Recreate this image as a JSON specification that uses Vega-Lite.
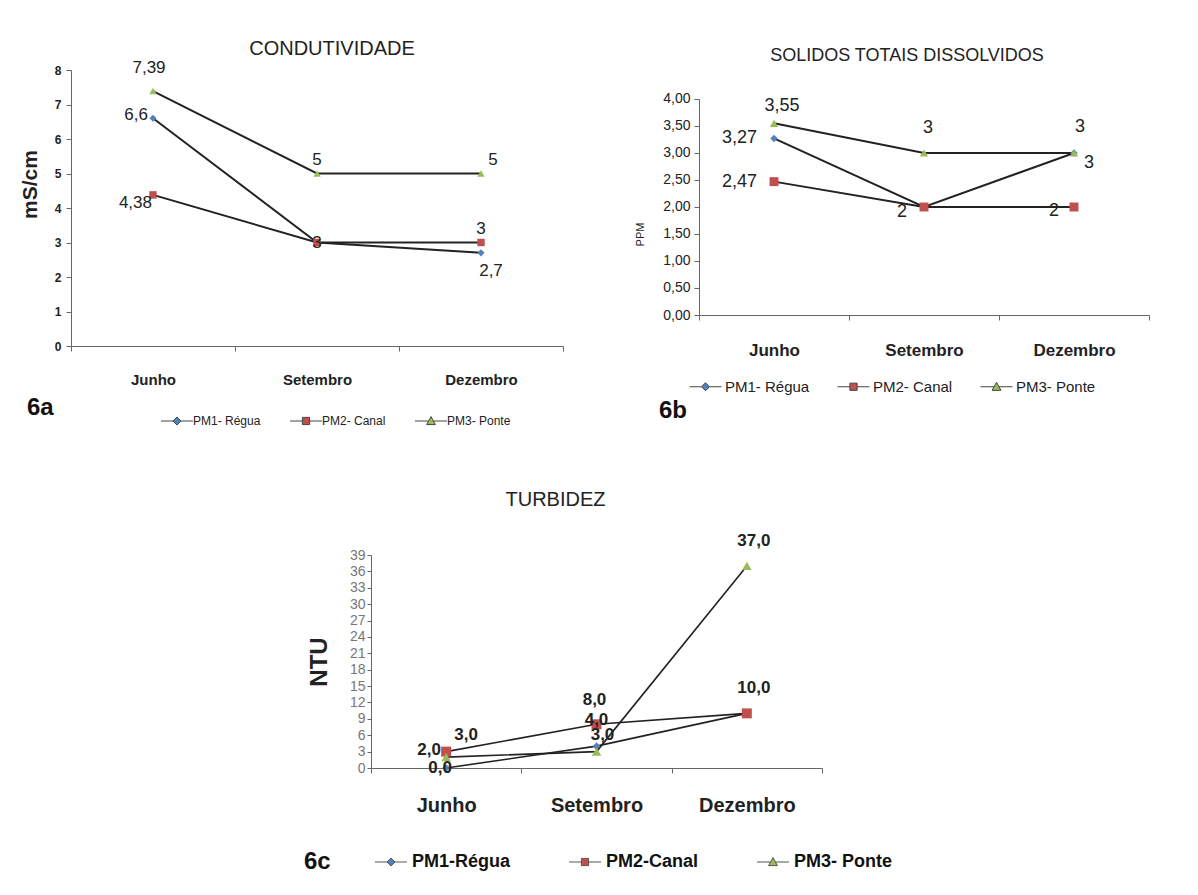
{
  "$schema": "https://vega.github.io/schema/vega-lite/v6.json",
  "background": "white",
  "padding": {"left": 19, "top": 39, "right": 5, "bottom": 5},
  "autosize": {"type": "pad"},
  "config": {
    "view": {"stroke": null},
    "locale": {"number": {"decimal": ",", "thousands": ".", "grouping": [3], "currency": ["", ""]}},
    "axis": {"grid": false, "domainColor": "#666", "tickColor": "#666", "labelColor": "#222", "titleColor": "#222", "domainWidth": 1},
    "title": {"color": "#222", "fontWeight": "normal", "anchor": "middle"}
  },
  "datasets": {
    "cond": [
      {"mes": "Junho", "ponto": "PM1- Régua", "valor": 6.6},
      {"mes": "Setembro", "ponto": "PM1- Régua", "valor": 3},
      {"mes": "Dezembro", "ponto": "PM1- Régua", "valor": 2.7},
      {"mes": "Junho", "ponto": "PM2- Canal", "valor": 4.38},
      {"mes": "Setembro", "ponto": "PM2- Canal", "valor": 3},
      {"mes": "Dezembro", "ponto": "PM2- Canal", "valor": 3},
      {"mes": "Junho", "ponto": "PM3- Ponte", "valor": 7.39},
      {"mes": "Setembro", "ponto": "PM3- Ponte", "valor": 5},
      {"mes": "Dezembro", "ponto": "PM3- Ponte", "valor": 5}
    ],
    "tds": [
      {"mes": "Junho", "ponto": "PM1- Régua", "valor": 3.27},
      {"mes": "Setembro", "ponto": "PM1- Régua", "valor": 2},
      {"mes": "Dezembro", "ponto": "PM1- Régua", "valor": 3},
      {"mes": "Junho", "ponto": "PM2- Canal", "valor": 2.47},
      {"mes": "Setembro", "ponto": "PM2- Canal", "valor": 2},
      {"mes": "Dezembro", "ponto": "PM2- Canal", "valor": 2},
      {"mes": "Junho", "ponto": "PM3- Ponte", "valor": 3.55},
      {"mes": "Setembro", "ponto": "PM3- Ponte", "valor": 3},
      {"mes": "Dezembro", "ponto": "PM3- Ponte", "valor": 3}
    ],
    "turb": [
      {"mes": "Junho", "ponto": "PM1-Régua", "valor": 0},
      {"mes": "Setembro", "ponto": "PM1-Régua", "valor": 4},
      {"mes": "Dezembro", "ponto": "PM1-Régua", "valor": 10},
      {"mes": "Junho", "ponto": "PM2-Canal", "valor": 3},
      {"mes": "Setembro", "ponto": "PM2-Canal", "valor": 8},
      {"mes": "Dezembro", "ponto": "PM2-Canal", "valor": 10},
      {"mes": "Junho", "ponto": "PM3- Ponte", "valor": 2},
      {"mes": "Setembro", "ponto": "PM3- Ponte", "valor": 3},
      {"mes": "Dezembro", "ponto": "PM3- Ponte", "valor": 37}
    ]
  },
  "vconcat": [
    {
      "hconcat": [
        {
          "data": {"name": "cond"},
          "width": 492,
          "height": 276,
          "title": {"text": "CONDUTIVIDADE", "font": "Liberation Sans, sans-serif", "fontSize": 20, "fontWeight": "normal", "frame": "group", "anchor": "middle", "dx": 15, "offset": 0},
          "encoding": {
            "x": {"field": "mes", "type": "nominal", "sort": ["Junho", "Setembro", "Dezembro"], "scale": {"type": "band", "paddingInner": 0, "paddingOuter": 0},
              "axis": {"title": null, "labelAngle": 0, "labelFont": "Liberation Sans, sans-serif", "labelFontSize": 15, "labelFontWeight": "bold", "labelPadding": 21, "tickBand": "extent", "tickSize": 5}},
            "y": {"field": "valor", "type": "quantitative", "scale": {"domain": [0, 8]},
              "axis": {"title": "mS/cm", "titleFont": "Liberation Sans, sans-serif", "titleFontSize": 21, "titleFontWeight": "bold", "titlePadding": 14, "titleY": 114, "values": [0, 1, 2, 3, 4, 5, 6, 7, 8], "labelFont": "Liberation Sans, sans-serif", "labelFontSize": 12, "labelFontWeight": "bold", "tickSize": 5, "labelPadding": 5}}
          },
          "layer": [
            {"mark": {"type": "line", "color": "#222", "strokeWidth": 2}, "encoding": {"detail": {"field": "ponto", "type": "nominal"}}},
            {"transform": [{"filter": "datum.ponto == 'PM1- Régua'"}], "mark": {"type": "point", "filled": true, "opacity": 1, "size": 50, "shape": "diamond", "color": "#4F81BD"}},
            {"transform": [{"filter": "datum.ponto == 'PM2- Canal'"}], "mark": {"type": "point", "filled": true, "opacity": 1, "size": 55, "shape": "square", "color": "#C0504D"}},
            {"transform": [{"filter": "datum.ponto == 'PM3- Ponte'"}], "mark": {"type": "point", "filled": true, "opacity": 1, "size": 55, "shape": "triangle-up", "color": "#9BBB59"}},
            {"transform": [{"filter": "false"}], "mark": {"type": "point", "filled": true, "opacity": 1, "stroke": "#444", "strokeWidth": 1},
              "encoding": {
                "color": {"field": "ponto", "type": "nominal", "scale": {"domain": ["PM1- Régua", "PM2- Canal", "PM3- Ponte"], "range": ["#4F81BD", "#C0504D", "#9BBB59"]},
                  "legend": {"title": "6a", "orient": "none", "legendX": -44, "legendY": 345, "direction": "horizontal", "titleOrient": "left", "titleAnchor": "start", "titleBaseline": "alphabetic", "titleFont": "Liberation Sans, sans-serif", "titleFontSize": 24, "titleFontWeight": "bold", "titleColor": "#111", "titlePadding": 106,
                    "labelFont": "Liberation Sans, sans-serif", "labelFontSize": 12, "labelColor": "#222", "labelOffset": 10, "symbolOffset": 11, "symbolSize": 64, "symbolStrokeWidth": 1, "columnPadding": 27}},
                "shape": {"field": "ponto", "type": "nominal", "scale": {"domain": ["PM1- Régua", "PM2- Canal", "PM3- Ponte"], "range": ["M-4,0H-1M1,0H4M0,-1L1,0L0,1L-1,0Z", "M-4,0H-0.9M0.9,0H4M-0.9,-0.9H0.9V0.9H-0.9Z", "M-4,0H-0.6M0.6,0H4M0,-1.1L1.1,0.9L-1.1,0.9Z"]},
                  "legend": {"title": "6a", "orient": "none", "legendX": -44, "legendY": 345, "direction": "horizontal", "titleOrient": "left", "titleAnchor": "start", "titleBaseline": "alphabetic", "titleFont": "Liberation Sans, sans-serif", "titleFontSize": 24, "titleFontWeight": "bold", "titleColor": "#111", "titlePadding": 106,
                    "labelFont": "Liberation Sans, sans-serif", "labelFontSize": 12, "labelColor": "#222", "labelOffset": 10, "symbolOffset": 11, "symbolSize": 64, "symbolStrokeWidth": 1, "columnPadding": 27}}
              }},
            {"transform": [{"filter": "datum.ponto == 'PM3- Ponte' && datum.mes == 'Junho'"}], "mark": {"type": "text", "font": "Liberation Sans, sans-serif", "fontSize": 17, "color": "#222", "baseline": "middle", "align": "center", "dx": -4, "dy": -23}, "encoding": {"text": {"field": "valor", "type": "quantitative", "format": "~g"}}},
            {"transform": [{"filter": "(datum.ponto == 'PM3- Ponte' && datum.mes == 'Setembro') || (datum.ponto == 'PM2- Canal' && datum.mes == 'Dezembro')"}], "mark": {"type": "text", "font": "Liberation Sans, sans-serif", "fontSize": 17, "color": "#222", "baseline": "middle", "align": "center", "dy": -14}, "encoding": {"text": {"field": "valor", "type": "quantitative", "format": "~g"}}},
            {"transform": [{"filter": "datum.ponto == 'PM3- Ponte' && datum.mes == 'Dezembro'"}], "mark": {"type": "text", "font": "Liberation Sans, sans-serif", "fontSize": 17, "color": "#222", "baseline": "middle", "align": "center", "dx": 12, "dy": -14}, "encoding": {"text": {"field": "valor", "type": "quantitative", "format": "~g"}}},
            {"transform": [{"filter": "datum.ponto == 'PM1- Régua' && datum.mes == 'Junho'"}], "mark": {"type": "text", "font": "Liberation Sans, sans-serif", "fontSize": 17, "color": "#222", "baseline": "middle", "align": "right", "dx": -5, "dy": -3}, "encoding": {"text": {"field": "valor", "type": "quantitative", "format": "~g"}}},
            {"transform": [{"filter": "datum.ponto == 'PM2- Canal' && datum.mes == 'Junho'"}], "mark": {"type": "text", "font": "Liberation Sans, sans-serif", "fontSize": 17, "color": "#222", "baseline": "middle", "align": "right", "dx": -1, "dy": 8}, "encoding": {"text": {"field": "valor", "type": "quantitative", "format": "~g"}}},
            {"transform": [{"filter": "datum.ponto == 'PM2- Canal' && datum.mes == 'Setembro'"}], "mark": {"type": "text", "font": "Liberation Sans, sans-serif", "fontSize": 17, "color": "#222", "baseline": "middle", "align": "center"}, "encoding": {"text": {"field": "valor", "type": "quantitative", "format": "~g"}}},
            {"transform": [{"filter": "datum.ponto == 'PM1- Régua' && datum.mes == 'Dezembro'"}], "mark": {"type": "text", "font": "Liberation Sans, sans-serif", "fontSize": 17, "color": "#222", "baseline": "middle", "align": "center", "dx": 10, "dy": 18}, "encoding": {"text": {"field": "valor", "type": "quantitative", "format": "~g"}}}
          ]
        },
        {
          "data": {"name": "tds"},
          "width": 450,
          "height": 245,
          "title": {"text": "SOLIDOS TOTAIS DISSOLVIDOS", "font": "Liberation Sans, sans-serif", "fontSize": 18, "fontWeight": "normal", "frame": "group", "anchor": "middle", "dx": -17, "offset": 5},
          "encoding": {
            "x": {"field": "mes", "type": "nominal", "sort": ["Junho", "Setembro", "Dezembro"], "scale": {"type": "band", "paddingInner": 0, "paddingOuter": 0},
              "axis": {"title": null, "labelAngle": 0, "labelFont": "Liberation Sans, sans-serif", "labelFontSize": 17, "labelFontWeight": "bold", "labelPadding": 22, "tickBand": "extent", "tickSize": 5}},
            "y": {"field": "valor", "type": "quantitative", "scale": {"domain": [0, 4.537], "nice": false},
              "axis": {"title": "PPM", "titleFont": "Liberation Sans, sans-serif", "titleFontSize": 11, "titleFontWeight": "normal", "titlePadding": 17, "titleY": 164, "domain": true, "domainDash": [216, 400], "values": [0, 0.5, 1, 1.5, 2, 2.5, 3, 3.5, 4], "format": ".2f", "labelFont": "Liberation Sans, sans-serif", "labelFontSize": 14, "tickSize": 5, "labelPadding": 4}}
          },
          "layer": [
            {"mark": {"type": "line", "color": "#222", "strokeWidth": 2}, "encoding": {"detail": {"field": "ponto", "type": "nominal"}}},
            {"transform": [{"filter": "datum.ponto == 'PM1- Régua'"}], "mark": {"type": "point", "filled": true, "opacity": 1, "size": 55, "shape": "diamond", "color": "#4F81BD"}},
            {"transform": [{"filter": "datum.ponto == 'PM2- Canal'"}], "mark": {"type": "point", "filled": true, "opacity": 1, "size": 80, "shape": "square", "color": "#C0504D"}},
            {"transform": [{"filter": "datum.ponto == 'PM3- Ponte'"}], "mark": {"type": "point", "filled": true, "opacity": 1, "size": 70, "shape": "triangle-up", "color": "#9BBB59"}},
            {"transform": [{"filter": "false"}], "mark": {"type": "point", "filled": true, "opacity": 1, "stroke": "#444", "strokeWidth": 1},
              "encoding": {
                "color": {"field": "ponto", "type": "nominal", "scale": {"domain": ["PM1- Régua", "PM2- Canal", "PM3- Ponte"], "range": ["#4F81BD", "#C0504D", "#9BBB59"]},
                  "legend": {"title": "6b", "orient": "none", "legendX": -40, "legendY": 309, "direction": "horizontal", "titleOrient": "bottom", "titleAnchor": "start", "titleAlign": "right", "titleFont": "Liberation Sans, sans-serif", "titleFontSize": 24, "titleFontWeight": "bold", "titleColor": "#111", "titlePadding": 4,
                    "labelFont": "Liberation Sans, sans-serif", "labelFontSize": 15, "labelColor": "#222", "labelOffset": 12, "symbolOffset": 11, "symbolSize": 64, "symbolStrokeWidth": 1, "columnPadding": 25}},
                "shape": {"field": "ponto", "type": "nominal", "scale": {"domain": ["PM1- Régua", "PM2- Canal", "PM3- Ponte"], "range": ["M-4,0H-1M1,0H4M0,-1L1,0L0,1L-1,0Z", "M-4,0H-0.9M0.9,0H4M-0.9,-0.9H0.9V0.9H-0.9Z", "M-4,0H-0.6M0.6,0H4M0,-1.1L1.1,0.9L-1.1,0.9Z"]},
                  "legend": {"title": "6b", "orient": "none", "legendX": -40, "legendY": 309, "direction": "horizontal", "titleOrient": "bottom", "titleAnchor": "start", "titleAlign": "right", "titleFont": "Liberation Sans, sans-serif", "titleFontSize": 24, "titleFontWeight": "bold", "titleColor": "#111", "titlePadding": 4,
                    "labelFont": "Liberation Sans, sans-serif", "labelFontSize": 15, "labelColor": "#222", "labelOffset": 12, "symbolOffset": 11, "symbolSize": 64, "symbolStrokeWidth": 1, "columnPadding": 25}}
              }},
            {"transform": [{"filter": "datum.ponto == 'PM3- Ponte' && datum.mes == 'Junho'"}], "mark": {"type": "text", "font": "Liberation Sans, sans-serif", "fontSize": 18, "color": "#222", "baseline": "middle", "align": "center", "dx": 8, "dy": -17}, "encoding": {"text": {"field": "valor", "type": "quantitative", "format": "~g"}}},
            {"transform": [{"filter": "datum.mes == 'Junho' && datum.ponto != 'PM3- Ponte'"}], "mark": {"type": "text", "font": "Liberation Sans, sans-serif", "fontSize": 18, "color": "#222", "baseline": "middle", "align": "right", "dx": -17}, "encoding": {"text": {"field": "valor", "type": "quantitative", "format": "~g"}}},
            {"transform": [{"filter": "datum.ponto == 'PM3- Ponte' && datum.mes == 'Setembro'"}], "mark": {"type": "text", "font": "Liberation Sans, sans-serif", "fontSize": 18, "color": "#222", "baseline": "middle", "align": "center", "dx": 4, "dy": -25}, "encoding": {"text": {"field": "valor", "type": "quantitative", "format": "~g"}}},
            {"transform": [{"filter": "datum.ponto == 'PM2- Canal' && datum.mes == 'Setembro'"}], "mark": {"type": "text", "font": "Liberation Sans, sans-serif", "fontSize": 18, "color": "#222", "baseline": "middle", "align": "center", "dx": -22, "dy": 5}, "encoding": {"text": {"field": "valor", "type": "quantitative", "format": "~g"}}},
            {"transform": [{"filter": "datum.ponto == 'PM3- Ponte' && datum.mes == 'Dezembro'"}], "mark": {"type": "text", "font": "Liberation Sans, sans-serif", "fontSize": 18, "color": "#222", "baseline": "middle", "align": "center", "dx": 6, "dy": -26}, "encoding": {"text": {"field": "valor", "type": "quantitative", "format": "~g"}}},
            {"transform": [{"filter": "datum.ponto == 'PM1- Régua' && datum.mes == 'Dezembro'"}], "mark": {"type": "text", "font": "Liberation Sans, sans-serif", "fontSize": 18, "color": "#222", "baseline": "middle", "align": "center", "dx": 15, "dy": 10}, "encoding": {"text": {"field": "valor", "type": "quantitative", "format": "~g"}}},
            {"transform": [{"filter": "datum.ponto == 'PM2- Canal' && datum.mes == 'Dezembro'"}], "mark": {"type": "text", "font": "Liberation Sans, sans-serif", "fontSize": 18, "color": "#222", "baseline": "middle", "align": "center", "dx": -20, "dy": 4}, "encoding": {"text": {"field": "valor", "type": "quantitative", "format": "~g"}}}
          ]
        }
      ],
      "spacing": 70,
      "resolve": {"scale": {"color": "independent", "shape": "independent"}, "legend": {"color": "independent", "shape": "independent"}}
    },
    {
      "hconcat": [
        {"data": {"values": []}, "width": 233, "height": 10, "mark": "point"},
        {
          "data": {"name": "turb"},
          "width": 451,
          "height": 213,
          "title": {"text": "TURBIDEZ", "font": "Liberation Sans, sans-serif", "fontSize": 20, "fontWeight": "normal", "frame": "group", "anchor": "middle", "dx": -41, "offset": 22},
          "encoding": {
            "x": {"field": "mes", "type": "nominal", "sort": ["Junho", "Setembro", "Dezembro"], "scale": {"type": "band", "paddingInner": 0, "paddingOuter": 0},
              "axis": {"title": null, "labelAngle": 0, "labelFont": "Liberation Sans, sans-serif", "labelFontSize": 20, "labelFontWeight": "bold", "labelPadding": 22, "tickBand": "extent", "tickSize": 5}},
            "y": {"field": "valor", "type": "quantitative", "scale": {"domain": [0, 39]},
              "axis": {"title": "NTU", "titleFont": "Liberation Sans, sans-serif", "titleFontSize": 24, "titleFontWeight": "bold", "titlePadding": 18, "values": [0, 3, 6, 9, 12, 15, 18, 21, 24, 27, 30, 33, 36, 39], "labelFont": "Liberation Sans, sans-serif", "labelFontSize": 14, "labelColor": "#777", "labelOverlap": false, "labelBound": false, "labelFlush": false, "tickSize": 4, "labelPadding": 2}}
          },
          "layer": [
            {"mark": {"type": "line", "color": "#222", "strokeWidth": 1.6}, "encoding": {"detail": {"field": "ponto", "type": "nominal"}}},
            {"transform": [{"filter": "datum.ponto == 'PM1-Régua'"}], "mark": {"type": "point", "filled": true, "opacity": 1, "size": 60, "shape": "diamond", "color": "#4F81BD"}},
            {"transform": [{"filter": "datum.ponto == 'PM2-Canal'"}], "mark": {"type": "point", "filled": true, "opacity": 1, "size": 100, "shape": "square", "color": "#C0504D"}},
            {"transform": [{"filter": "datum.ponto == 'PM3- Ponte'"}], "mark": {"type": "point", "filled": true, "opacity": 1, "size": 90, "shape": "triangle-up", "color": "#9BBB59"}},
            {"transform": [{"filter": "false"}], "mark": {"type": "point", "filled": true, "opacity": 1, "stroke": "#555", "strokeWidth": 1},
              "encoding": {
                "color": {"field": "ponto", "type": "nominal", "scale": {"domain": ["PM1-Régua", "PM2-Canal", "PM3- Ponte"], "range": ["#4F81BD", "#C0504D", "#9BBB59"]},
                  "legend": {"title": "6c", "orient": "none", "legendX": -67, "legendY": 298, "direction": "horizontal", "titleOrient": "left", "titleFont": "Liberation Sans, sans-serif", "titleFontSize": 24, "titleFontWeight": "bold", "titleColor": "#111", "titlePadding": 40,
                    "labelFont": "Liberation Sans, sans-serif", "labelFontSize": 18, "labelFontWeight": "bold", "labelColor": "#111", "labelOffset": 12, "symbolOffset": 11, "symbolSize": 64, "symbolStrokeWidth": 1, "columnPadding": 54}},
                "shape": {"field": "ponto", "type": "nominal", "scale": {"domain": ["PM1-Régua", "PM2-Canal", "PM3- Ponte"], "range": ["M-4,0H-1M1,0H4M0,-1L1,0L0,1L-1,0Z", "M-4,0H-0.9M0.9,0H4M-0.9,-0.9H0.9V0.9H-0.9Z", "M-4,0H-0.6M0.6,0H4M0,-1.1L1.1,0.9L-1.1,0.9Z"]},
                  "legend": {"title": "6c", "orient": "none", "legendX": -67, "legendY": 298, "direction": "horizontal", "titleOrient": "left", "titleFont": "Liberation Sans, sans-serif", "titleFontSize": 24, "titleFontWeight": "bold", "titleColor": "#111", "titlePadding": 40,
                    "labelFont": "Liberation Sans, sans-serif", "labelFontSize": 18, "labelFontWeight": "bold", "labelColor": "#111", "labelOffset": 12, "symbolOffset": 11, "symbolSize": 64, "symbolStrokeWidth": 1, "columnPadding": 54}}
              }},
            {"transform": [{"filter": "datum.ponto == 'PM1-Régua' && datum.mes == 'Junho'"}], "mark": {"type": "text", "font": "Liberation Sans, sans-serif", "fontSize": 17, "fontWeight": "bold", "color": "#222", "baseline": "middle", "align": "center", "dx": -6}, "encoding": {"text": {"field": "valor", "type": "quantitative", "format": ".1f"}}},
            {"transform": [{"filter": "datum.ponto == 'PM3- Ponte' && datum.mes == 'Junho'"}], "mark": {"type": "text", "font": "Liberation Sans, sans-serif", "fontSize": 17, "fontWeight": "bold", "color": "#222", "baseline": "middle", "align": "center", "dx": -17, "dy": -7}, "encoding": {"text": {"field": "valor", "type": "quantitative", "format": ".1f"}}},
            {"transform": [{"filter": "datum.ponto == 'PM2-Canal' && datum.mes == 'Junho'"}], "mark": {"type": "text", "font": "Liberation Sans, sans-serif", "fontSize": 17, "fontWeight": "bold", "color": "#222", "baseline": "middle", "align": "center", "dx": 20, "dy": -17}, "encoding": {"text": {"field": "valor", "type": "quantitative", "format": ".1f"}}},
            {"transform": [{"filter": "datum.ponto == 'PM2-Canal' && datum.mes == 'Setembro'"}], "mark": {"type": "text", "font": "Liberation Sans, sans-serif", "fontSize": 17, "fontWeight": "bold", "color": "#222", "baseline": "middle", "align": "center", "dx": -2, "dy": -24}, "encoding": {"text": {"field": "valor", "type": "quantitative", "format": ".1f"}}},
            {"transform": [{"filter": "datum.ponto == 'PM1-Régua' && datum.mes == 'Setembro'"}], "mark": {"type": "text", "font": "Liberation Sans, sans-serif", "fontSize": 17, "fontWeight": "bold", "color": "#222", "baseline": "middle", "align": "center", "dy": -26}, "encoding": {"text": {"field": "valor", "type": "quantitative", "format": ".1f"}}},
            {"transform": [{"filter": "datum.ponto == 'PM3- Ponte' && datum.mes == 'Setembro'"}], "mark": {"type": "text", "font": "Liberation Sans, sans-serif", "fontSize": 17, "fontWeight": "bold", "color": "#222", "baseline": "middle", "align": "center", "dx": 6, "dy": -17}, "encoding": {"text": {"field": "valor", "type": "quantitative", "format": ".1f"}}},
            {"transform": [{"filter": "datum.mes == 'Dezembro' && datum.ponto != 'PM1-Régua'"}], "mark": {"type": "text", "font": "Liberation Sans, sans-serif", "fontSize": 17, "fontWeight": "bold", "color": "#222", "baseline": "middle", "align": "center", "dx": 7, "dy": -25}, "encoding": {"text": {"field": "valor", "type": "quantitative", "format": ".1f"}}}
          ]
        }
      ],
      "spacing": 0,
      "resolve": {"scale": {"color": "independent", "shape": "independent"}, "legend": {"color": "independent", "shape": "independent"}}
    }
  ],
  "spacing": 62,
  "resolve": {"scale": {"color": "independent", "shape": "independent"}, "legend": {"color": "independent", "shape": "independent"}}
}
